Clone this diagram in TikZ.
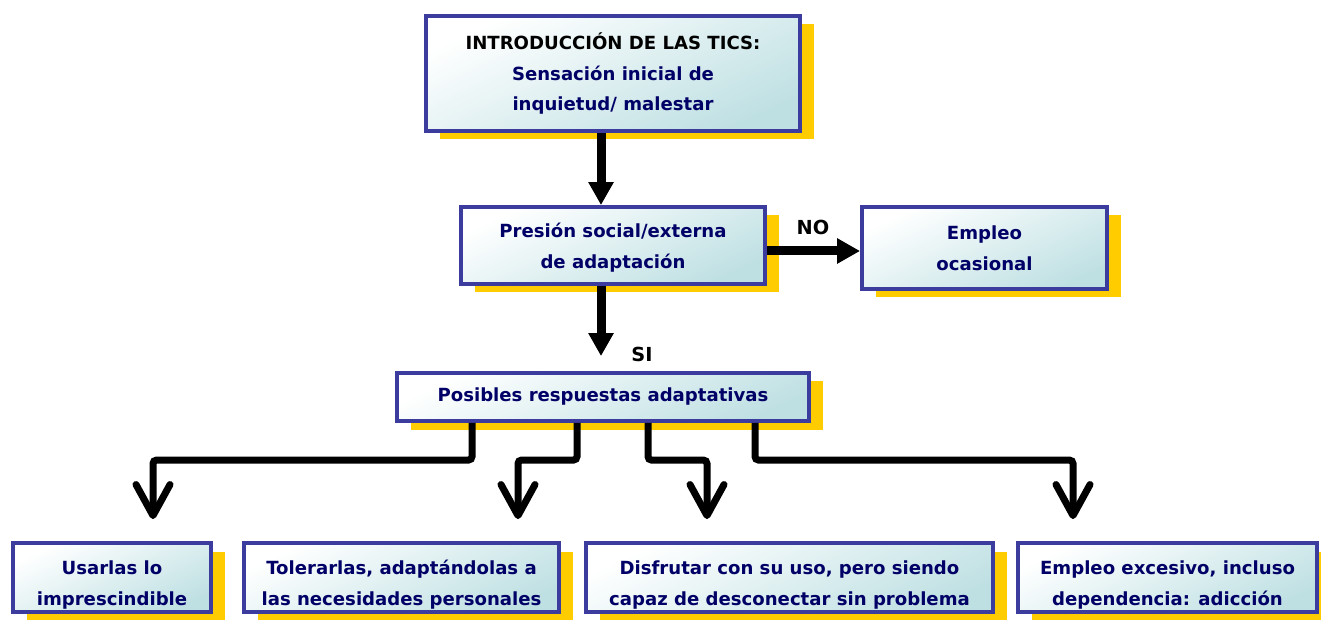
\documentclass[tikz,border=0pt]{standalone}
\usepackage{fontspec}
\setmainfont{DejaVu Sans}
\usetikzlibrary{arrows.meta,shadows}
\definecolor{cajaborde}{HTML}{3C3C9E}
\definecolor{cajatexto}{HTML}{000066}
\definecolor{cajaazul}{HTML}{BFE0E3}
\definecolor{sombra}{HTML}{FFCC00}
\newcommand\alto{\rule{0pt}{16pt}}
\tikzset{
  caja/.style={draw=cajaborde, line width=2.2pt, top color=white, bottom color=cajaazul,
    shading angle=25, drop shadow={fill=sombra, opacity=1, shadow xshift=0.28cm, shadow yshift=-0.17cm},
    text=cajatexto, font=\bfseries\fontsize{10.3}{17.5}\selectfont, align=center, inner sep=0pt},
  cajabaja/.style={caja, minimum height=1.38cm},
  etiqueta/.style={font=\bfseries\fontsize{11}{13}\selectfont, inner sep=0pt},
  flecha/.style={line width=0.18cm, -{Triangle[width=0.48cm,length=0.46cm]}},
  rama/.style={line width=0.14cm, rounded corners=2pt, -{Straight Barb[width=0.68cm,length=0.62cm,round]}},
}
\begin{document}
\begin{tikzpicture}
\useasboundingbox (0,0) rectangle (26.42,12.38);
\node[caja, minimum width=7.48cm, minimum height=2.30cm] (intro) at (12.26,10.91)
  {\textcolor{black}{INTRODUCCIÓN DE LAS TICS:}\\ Sensación inicial de\\ inquietud/ malestar};
\node[caja, minimum width=6.08cm, minimum height=1.54cm] (presion) at (12.26,7.47)
  {\rule{0pt}{11pt}Presión social/externa\\ de adaptación};
\node[caja, minimum width=4.90cm, minimum height=1.64cm] (empleo) at (19.69,7.42)
  {Empleo\\ ocasional};
\node[caja, minimum width=8.24cm, minimum height=0.96cm] (posibles) at (12.06,4.44)
  {Posibles respuestas adaptativas};
\node[cajabaja, minimum width=3.96cm] (b1) at (2.24,0.83)
  {\alto Usarlas lo\\ imprescindible};
\node[cajabaja, minimum width=6.30cm] (b2) at (8.03,0.83)
  {\alto Tolerarlas, adaptándolas a\\ las necesidades personales};
\node[cajabaja, minimum width=8.14cm] (b3) at (15.79,0.83)
  {\alto Disfrutar con su uso, pero siendo\\ capaz de desconectar sin problema};
\node[cajabaja, minimum width=5.98cm] (b4) at (23.35,0.83)
  {\alto Empleo excesivo, incluso\\ dependencia: adicción};
\node[etiqueta] (no) at (16.26,7.84) {NO};
\node[etiqueta] (si) at (12.84,5.30) {SI};

\coordinate (ini) at ([xshift=-0.24cm]intro.south);
\coordinate (sal) at ([xshift=-0.24cm]presion.south);
\coordinate (der) at ([yshift=-0.11cm]presion.east);
\draw[flecha] (ini) -- (ini |- presion.north);
\draw[flecha] (der) -- (der -| empleo.west);
\draw[flecha, shorten >=0.3cm] (sal) -- (sal |- posibles.north);

\foreach \a/\b/\c in {-2.62/b1/0.82, -0.52/b2/2.33, 0.90/b3/-1.65, 3.04/b4/-1.89}
  \draw[rama] ([xshift=\a cm]posibles.south) |- ([xshift=\c cm,yshift=1.62cm]\b.north)
    -- ([xshift=\c cm,yshift=0.44cm]\b.north);
\end{tikzpicture}
\end{document}
